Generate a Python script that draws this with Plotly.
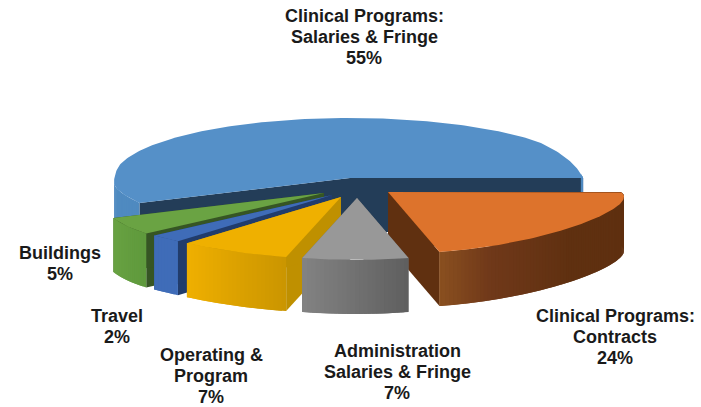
import numpy as np
import plotly.graph_objects as go

# ---- data ----
categories = ["Clinical Programs:<br>Salaries &amp; Fringe",
              "Clinical Programs:<br>Contracts",
              "Administration<br>Salaries &amp; Fringe",
              "Operating &amp;<br>Program",
              "Travel",
              "Buildings"]
values = [55, 24, 7, 7, 2, 5]

# ---- style / layout ----
W, H = 701, 407
CX, CY = 350, 178
RX = 236
DEPTH = 54
pull = [(0, 0), (38, 14), (7, 20), (-9, 19), (-18, 17), (-26, 15)]
top_col = ["#5590C8", "#DD732C", "#989898", "#EFB000", "#3F6CB8", "#6AA343"]
cut_col = ["#233D58", "#603010", "#707070", "#BF9000", "#213C6C", "#365524"]
rim_cols = [
    [(0, "#4F8AC0"), (1, "#4F8AC0")],
    [(0, "#5F3010"), (0.55, "#5F3010"), (0.85, "#70391A"), (1, "#8A5020")],
    [(0, "#5F5F5F"), (1, "#838383")],
    [(0, "#CB9600"), (1, "#F0B000")],
    [(0, "#3F6CB8"), (1, "#3F6CB8")],
    [(0, "#5F9A3D"), (1, "#6AA343")],
]
label_xy = [(364, 37), (615, 337), (397, 372), (211, 376), (117, 326), (60, 263)]
LINE_GAP = 21


def hex2rgb(h):
    return np.array([int(h[i:i + 2], 16) for i in (1, 3, 5)], float)


def ramp(stops, f):
    for (a, ca), (b, cb) in zip(stops, stops[1:]):
        if f <= b:
            k = 0 if b == a else (f - a) / (b - a)
            c = hex2rgb(ca) * (1 - k) + hex2rgb(cb) * k
            return "rgb(%d,%d,%d)" % tuple(c)
    return stops[-1][1]


def disc(tdeg):
    """Oblique view of the pie disc: angle (clockwise from east) to offset."""
    t = np.radians(tdeg)
    s, c = np.sin(t), np.cos(t)
    u = s + 0.156
    front = 27 * u + 23 * u ** 2
    back_right = 60 * s + 9.4 * np.clip((s + 0.6) / 0.444, 0, 1)
    back_left = 60 * s + 4.8 * np.clip(1 + s / 0.2, 0, 1)
    y = np.where(c > 0, np.where(u < 0, back_right, front),
                 np.where(s < 0, back_left, front))
    f = 1 + 0.065 * np.clip((s - 0.45) / 0.25, 0, 1) * (c < 0)
    return RX * c * f, y


fig = go.Figure()


def poly(xs, ys, col):
    fig.add_trace(go.Scatter(x=list(xs) + [xs[0]], y=list(ys) + [ys[0]], mode="lines",
                             fill="toself", fillcolor=col,
                             line=dict(color=col, width=0),
                             hoverinfo="skip", showlegend=False))


# slice angles from the values: clockwise, with orange beginning at -9 deg
angles = {}
a = -9.0
for i in [1, 2, 3, 4, 5, 0]:
    b = a + values[i] * 3.6
    angles[i] = (a, b)
    a = b


def draw(i):
    a0, a1 = angles[i]
    ax, ay = CX + pull[i][0], CY + pull[i][1]
    ts = np.arange(a0, a1 + 0.01, 1.0)
    if ts[-1] < a1:
        ts = np.append(ts, a1)
    dx, dy = disc(ts)
    rx, ry = ax + dx, ay + dy
    # cut faces
    for k in (0, -1):
        poly([ax, rx[k], rx[k], ax], [ay, ry[k], ry[k] + DEPTH, ay + DEPTH], cut_col[i])
    # outer wall: overlapping strips so no seams show
    n = len(ts) - 1
    for k in range(n):
        sk = np.sin(np.radians(ts[k + 1]))
        ck = np.cos(np.radians(ts[k + 1]))
        if (ck > 0 and sk < -0.2) or (ck <= 0 and sk < 0):
            continue
        e = min(k + 2, n)
        seg = np.arange(k, e + 1)
        tm = 0.5 * (ts[k] + ts[k + 1])
        f = (tm - a0) / (a1 - a0)
        poly(list(rx[seg]) + list(rx[seg][::-1]),
             list(ry[seg]) + list(ry[seg][::-1] + DEPTH),
             ramp(rim_cols[i], f))
    # top surface
    poly([ax] + list(rx), [ay] + list(ry), top_col[i])


for i in [0, 1, 5, 4, 3, 2]:
    draw(i)

for i, (cat, v) in enumerate(zip(categories, values)):
    lines = cat.split("<br>") + ["%d%%" % v]
    y0 = label_xy[i][1] - LINE_GAP * (len(lines) - 1) / 2
    for j, line in enumerate(lines):
        fig.add_annotation(x=label_xy[i][0], y=y0 + j * LINE_GAP, xref="x", yref="y",
                           text="<b>%s</b>" % line, showarrow=False,
                           align="center", xanchor="center", yanchor="middle",
                           font=dict(family="Liberation Sans", size=18, color="#1a1a1a"))

fig.update_xaxes(range=[0, W], visible=False, fixedrange=True)
fig.update_yaxes(range=[H, 0], visible=False, fixedrange=True)
fig.update_layout(width=W, height=H, margin=dict(l=0, r=0, t=0, b=0),
                  paper_bgcolor="white", plot_bgcolor="white", showlegend=False)
fig.write_html("out.html", config={"displayModeBar": False},
               post_script="document.body.style.margin='0';document.body.style.overflow='hidden';")
